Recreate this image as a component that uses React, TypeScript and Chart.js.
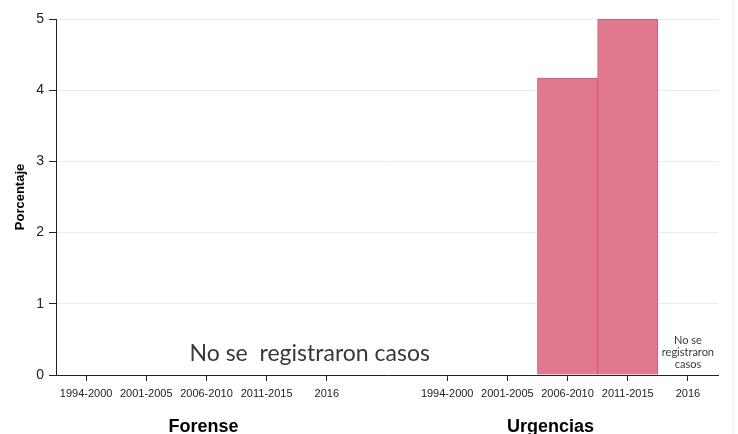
import React, { useEffect, useRef } from "react";
import { Chart, registerables } from "chart.js";

Chart.register(...registerables);

const categories = [
  "1994-2000", "2001-2005", "2006-2010", "2011-2015", "2016",
  "",
  "1994-2000", "2001-2005", "2006-2010", "2011-2015", "2016",
];
const values: (number | null)[] = [
  null, null, null, null, null,
  null,
  null, null, 4.17, 5, null,
];
const yTicks = [0, 1, 2, 3, 4, 5];
const groupLabels = ["Forense", "Urgencias"];
const noCasesText = "No se  registraron casos";
const noCasesSmall = ["No se", "registraron", "casos"];

const overlay = {
  id: "overlay",
  afterDraw(chart: any) {
    const ctx = chart.ctx;
    const x = chart.scales.x;
    ctx.save();
    ctx.fillStyle = "#000";
    ctx.textAlign = "center";
    ctx.textBaseline = "alphabetic";
    ctx.font = "bold 18px 'Liberation Sans', Arial, sans-serif";
    ctx.fillText(groupLabels[0], x.getPixelForValue(2) - 3, 432);
    ctx.fillText(groupLabels[1], x.getPixelForValue(8) - 17, 432);

    ctx.fillStyle = "#383838";
    ctx.font = "23px Lato, sans-serif";
    ctx.fillText(noCasesText, (x.getPixelForValue(3) + x.getPixelForValue(4)) / 2 + 13, 361);

    ctx.font = "11px Lato, sans-serif";
    const cx = x.getPixelForValue(10);
    noCasesSmall.forEach((t, i) => ctx.fillText(t, cx, 344 + i * 12));

    ctx.strokeStyle = "#eef2f2";
    ctx.lineWidth = 1;
    ctx.beginPath();
    ctx.moveTo(733.5, 0);
    ctx.lineTo(733.5, 434);
    ctx.stroke();
    ctx.restore();
  },
};

export default function App() {
  const ref = useRef<HTMLCanvasElement>(null);
  useEffect(() => {
    if (!ref.current) return;
    const chart = new Chart(ref.current, {
      type: "bar",
      data: {
        labels: categories,
        datasets: [
          {
            data: values,
            backgroundColor: "rgb(224,121,144)",
            borderColor: "rgb(215,84,114)",
            borderWidth: 1,
            barPercentage: 1,
            categoryPercentage: 1,
          },
        ],
      },
      options: {
        animation: false,
        responsive: false,
        layout: { padding: { top: 19, right: 20, left: 0, bottom: 0 } },
        plugins: { legend: { display: false }, tooltip: { enabled: false } },
        scales: {
          x: {
            offset: true,
            grid: {
              display: true,
              offset: false,
              drawOnChartArea: false,
              tickLength: 6,
              tickColor: (c: any) => (c.index === 5 ? "rgba(0,0,0,0)" : "#222"),
            },
            border: { display: true, color: "#222", width: 1 },
            ticks: {
              color: "#222",
              font: { family: "'Liberation Sans', Arial, sans-serif", size: 11 },
              padding: 6,
              maxRotation: 0,
              autoSkip: false,
            },
            afterFit(s: any) {
              s.height = 59;
            },
          },
          y: {
            min: 0,
            max: 5,
            afterBuildTicks(s: any) {
              s.ticks = yTicks.map((v) => ({ value: v }));
            },
            grid: {
              color: "#e6eded",
              tickColor: "#222",
              tickLength: 7,
            },
            border: { display: true, color: "#222", width: 1 },
            ticks: {
              color: "#222",
              font: { family: "'Liberation Sans', Arial, sans-serif", size: 14 },
              padding: 5,
            },
            title: {
              display: true,
              text: "Porcentaje",
              color: "#000",
              font: { family: "'Liberation Sans', Arial, sans-serif", size: 13, weight: "bold" },
              padding: { top: 13, bottom: 0 },
            },
            afterFit(s: any) {
              s.width = 56;
            },
          },
        },
      },
      plugins: [overlay],
    });
    return () => chart.destroy();
  }, []);
  return (
    <div style={{ position: "fixed", left: 0, top: 0, width: 738, height: 434, background: "#fff" }}>
      <canvas ref={ref} width={738} height={434} style={{ width: 738, height: 434 }} />
    </div>
  );
}
